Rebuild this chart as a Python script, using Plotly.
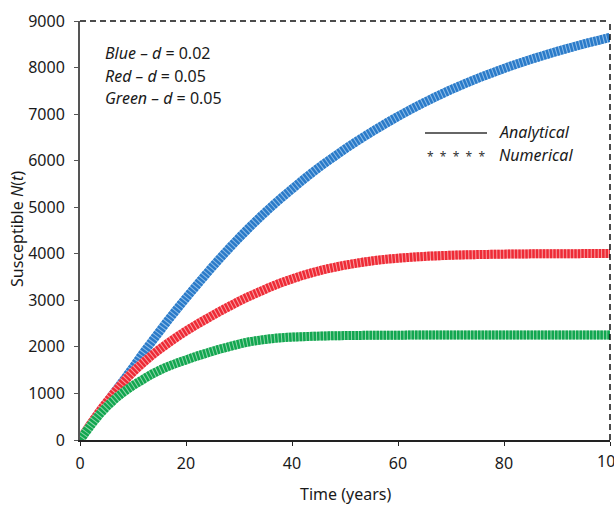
import plotly.graph_objects as go

# ---- data ----
time_years = list(range(0, 101, 2))

blue_d002 = [0, 330, 650, 950, 1250, 1560, 1880, 2180, 2480, 2770,
             3050, 3320, 3590, 3850, 4100, 4340, 4570, 4790, 5000, 5200,
             5390, 5580, 5760, 5930, 6090, 6250, 6400, 6545, 6685, 6820,
             6950, 7075, 7195, 7310, 7420, 7525, 7625, 7720, 7810, 7895,
             7980, 8060, 8136, 8209, 8279, 8347, 8411, 8474, 8534, 8591,
             8650]

red_d005 = [0, 340, 660, 950, 1220, 1460, 1670, 1860, 2030, 2190,
            2340, 2480, 2610, 2740, 2860, 2980, 3090, 3190, 3290, 3380,
            3460, 3535, 3600, 3660, 3710, 3755, 3795, 3830, 3860, 3885,
            3905, 3922, 3937, 3950, 3960, 3968, 3975, 3980, 3985, 3989,
            3992, 3995, 3997, 3999, 4000, 4001, 4002, 4003, 4004, 4004,
            4005]

green_d005 = [0, 310, 590, 820, 1010, 1170, 1310, 1440, 1550, 1640,
              1720, 1800, 1870, 1940, 2000, 2060, 2110, 2145, 2175, 2195,
              2210, 2220, 2228, 2234, 2239, 2243, 2246, 2248, 2250, 2251,
              2252, 2253, 2253, 2254, 2254, 2255, 2255, 2255, 2256, 2256,
              2256, 2256, 2257, 2257, 2257, 2257, 2257, 2258, 2258, 2258,
              2258]

x_ticks = [0, 20, 40, 60, 80, 100]
x_ticktext = ["0", "20", "40", "60", "80", ""]   # last label drawn separately (clipped by page edge)
x_last_label = "100"
y_ticks = [0, 1000, 2000, 3000, 4000, 5000, 6000, 7000, 8000, 9000]

series = [
    ("Blue", blue_d002, "#2b7bc9", "#8fbde8"),
    ("Red", red_d005, "#ee2b36", "#f8a0a5"),
    ("Green", green_d005, "#12a650", "#8fd6a9"),
]

FONT = "Noto Sans"

fig = go.Figure()
for name, vals, col, light in series:
    # analytical (solid, under)
    fig.add_trace(go.Scatter(x=time_years, y=vals, mode="lines",
                             line=dict(color=light, width=9, shape="spline"),
                             showlegend=False, hoverinfo="skip"))
    # numerical (dense markers look)
    fig.add_trace(go.Scatter(x=time_years, y=vals, mode="lines", name=name,
                             line=dict(color=col, width=9, shape="spline", dash="2.5px,1px"),
                             showlegend=False))

L, R, T, B = 80, 4, 21, 65
W, H = 614, 505
pw = W - L - R
ph = H - T - B


def px(xp):
    return (xp - L) / pw


def py(yp):
    return (H - B - yp) / ph


fig.update_layout(
    width=W, height=H,
    margin=dict(l=L, r=R, t=T, b=B),
    paper_bgcolor="white", plot_bgcolor="white",
    font=dict(family=FONT, size=16, color="#1a1a1a"),
    xaxis=dict(range=[0, 100], tickvals=x_ticks, ticktext=x_ticktext,
               showgrid=False, zeroline=False, showline=True,
               linecolor="#222", linewidth=1.5, ticks="outside", ticklen=4,
               tickcolor="#222", tickwidth=1, ticklabelstandoff=4,
               tickfont=dict(size=16)),
    yaxis=dict(range=[0, 9000], tickvals=y_ticks,
               showgrid=False, zeroline=False, showline=True,
               linecolor="#555", linewidth=2, ticks="outside", ticklen=4,
               tickcolor="#555", tickwidth=1, ticklabelstandoff=6,
               tickfont=dict(size=16)),
    showlegend=False,
)

# last x tick label (runs past the page edge as in the reference)
fig.add_annotation(text=x_last_label, xref="x", yref="paper", x=x_ticks[-1], y=py(461),
                   showarrow=False, xanchor="center", yanchor="middle",
                   font=dict(size=16))

# dashed top and right frame
fig.add_shape(type="line", xref="paper", yref="paper", x0=0, x1=1, y0=1, y1=1,
              line=dict(color="#111", width=1.5, dash="6px,4px"))
fig.add_shape(type="line", xref="paper", yref="paper", x0=1, x1=1, y0=0, y1=1,
              line=dict(color="#111", width=1.5, dash="6px,4px"))

# axis titles
fig.add_annotation(text="Time (years)", xref="paper", yref="paper",
                   x=px(345), y=py(494), showarrow=False,
                   xanchor="center", yanchor="middle", font=dict(size=16))
fig.add_annotation(text="Susceptible <i>N</i>(<i>t</i>)", xref="paper", yref="paper",
                   x=px(17), y=py(229), showarrow=False, textangle=-90,
                   xanchor="center", yanchor="middle", font=dict(size=16))

# parameter notes
notes = [("Blue", "0.02", 53), ("Red", "0.05", 76), ("Green", "0.05", 98)]
for nm, dv, yy in notes:
    fig.add_annotation(text=f"<i>{nm} – d</i> = {dv}", xref="paper", yref="paper",
                       x=px(103), y=py(yy), showarrow=False,
                       xanchor="left", yanchor="middle", font=dict(size=16))

# custom legend
fig.add_shape(type="line", xref="paper", yref="paper", x0=px(425), x1=px(487),
              y0=py(133), y1=py(133), line=dict(color="#333", width=1.5))
fig.add_annotation(text="<i>Analytical</i>", xref="paper", yref="paper",
                   x=px(497), y=py(132), showarrow=False,
                   xanchor="left", yanchor="middle", font=dict(size=16))
fig.add_annotation(text="*  *  *  *  *", xref="paper", yref="paper",
                   x=px(456), y=py(156), showarrow=False,
                   xanchor="center", yanchor="middle", font=dict(size=12, color="#333"))
fig.add_annotation(text="<i>Numerical</i>", xref="paper", yref="paper",
                   x=px(497), y=py(155), showarrow=False,
                   xanchor="left", yanchor="middle", font=dict(size=16))

fig.write_html("out.html")
